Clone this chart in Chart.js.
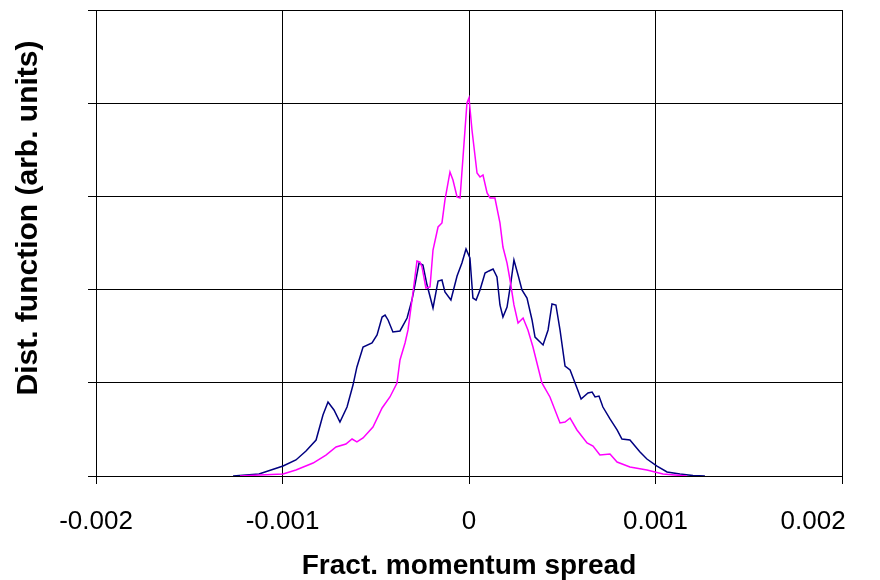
<!DOCTYPE html>
<html lang="en">
<head>
  <meta charset="UTF-8">
  <title>Dist. function</title>
  <style>
    body { margin: 0; background: #fff; }
    #wrap { width: 880px; height: 580px; }
  </style>
</head>
<body>
  <div id="wrap"><canvas id="chart" width="880" height="580"></canvas></div>
  <script src="https://cdn.jsdelivr.net/npm/chart.js"></script>
  <script>
    // navy curve (wider spread)
    const blueX = [-0.001265, -0.001126, -0.000997, -0.000928, -0.000874, -0.000820, -0.000783, -0.000756, -0.000724, -0.000692,
      -0.000654, -0.000622, -0.000601, -0.000568, -0.000520, -0.000493, -0.000466, -0.000450, -0.000434, -0.000408,
      -0.000370, -0.000332, -0.000306, -0.000290, -0.000268, -0.000247, -0.000225, -0.000193, -0.000166, -0.000145,
      -0.000129, -0.000097, -0.000064, -0.000038, -0.000016, 0.000005, 0.000021, 0.000038, 0.000059, 0.000086,
      0.000107, 0.000129, 0.000150, 0.000166, 0.000182, 0.000204, 0.000225, 0.000241, 0.000263, 0.000284,
      0.000311, 0.000338, 0.000354, 0.000397, 0.000424, 0.000445, 0.000466, 0.000488, 0.000515, 0.000542,
      0.000579, 0.000601, 0.000638, 0.000660, 0.000676, 0.000697, 0.000718, 0.000756, 0.000794, 0.000820,
      0.000863, 0.000917, 0.000954, 0.001008, 0.001062, 0.001131, 0.001201, 0.001265];
    const blueY = [0, 0.021, 0.107, 0.172, 0.268, 0.386, 0.655, 0.794, 0.708, 0.579,
      0.740, 0.976, 1.170, 1.384, 1.427, 1.513, 1.706, 1.727, 1.674, 1.545,
      1.556, 1.695, 1.888, 2.049, 2.285, 2.264, 2.049, 1.803, 2.092, 2.103,
      1.974, 1.888, 2.146, 2.285, 2.436, 2.339, 1.910, 1.888, 1.996, 2.178,
      2.200, 2.221, 2.135, 1.835, 1.706, 1.813, 2.082, 2.318, 2.157, 1.996,
      1.910, 1.674, 1.491, 1.406, 1.567, 1.846, 1.835, 1.567, 1.180, 1.137,
      0.944, 0.826, 0.891, 0.901, 0.848, 0.858, 0.740, 0.612, 0.494, 0.397,
      0.386, 0.258, 0.182, 0.107, 0.043, 0.021, 0.005, 0];

    // magenta curve (narrow peak)
    const pinkX = [-0.001228, -0.001121, -0.000997, -0.000928, -0.000836, -0.000767, -0.000713, -0.000660, -0.000627, -0.000601,
      -0.000568, -0.000515, -0.000466, -0.000424, -0.000386, -0.000370, -0.000343, -0.000327, -0.000300, -0.000279,
      -0.000263, -0.000252, -0.000231, -0.000209, -0.000193, -0.000166, -0.000145, -0.000129, -0.000102, -0.000086,
      -0.000064, -0.000048, -0.000032, -0.000011, 0, 0.000016, 0.000043, 0.000059, 0.000075, 0.000097,
      0.000113, 0.000139, 0.000166, 0.000182, 0.000204, 0.000220, 0.000241, 0.000263, 0.000290, 0.000316,
      0.000343, 0.000391, 0.000434, 0.000488, 0.000515, 0.000542, 0.000579, 0.000633, 0.000665, 0.000702,
      0.000756, 0.000794, 0.000863, 0.000954, 0.001040, 0.001169];
    const pinkY = [0, 0.011, 0.021, 0.064, 0.139, 0.225, 0.311, 0.343, 0.397, 0.365,
      0.408, 0.526, 0.730, 0.848, 0.998, 1.245, 1.427, 1.567, 1.974, 2.307,
      2.296, 2.243, 2.017, 2.028, 2.425, 2.672, 2.715, 2.961, 3.262, 3.176,
      2.994, 2.983, 3.423, 4.002, 4.056, 3.712, 3.251, 3.208, 3.230, 3.037,
      2.983, 2.983, 2.715, 2.457, 2.285, 2.103, 1.835, 1.642, 1.695, 1.567,
      1.384, 0.998, 0.848, 0.569, 0.579, 0.622, 0.494, 0.354, 0.322, 0.225,
      0.236, 0.150, 0.097, 0.064, 0.021, 0];

    const xTicks = [-0.002, -0.001, 0, 0.001, 0.002];
    // last label sits left of its tick, as in the original
    const xTickLabels = ['-0.002', '-0.001', '0', '0.001', '0.002        '];

    const font = 'Liberation Sans, Arial, sans-serif';

    function points(xs, ys) {
      return xs.map((x, i) => ({ x: x, y: ys[i] }));
    }

    new Chart(document.getElementById('chart'), {
      type: 'line',
      data: {
        datasets: [
          { data: points(pinkX, pinkY), borderColor: '#ff00ff', borderWidth: 1.5, pointRadius: 0, tension: 0 },
          { data: points(blueX, blueY), borderColor: '#000080', borderWidth: 1.5, pointRadius: 0, tension: 0 }
        ]
      },
      options: {
        responsive: false,
        animation: false,
        layout: { padding: { left: 0, top: 10, right: 38, bottom: 0 } },
        plugins: { legend: { display: false }, tooltip: { enabled: false } },
        scales: {
          x: {
            type: 'linear',
            min: -0.002,
            max: 0.002,
            afterBuildTicks: scale => { scale.ticks = xTicks.map(v => ({ value: v })); },
            afterFit: scale => { scale.height = 104; scale.paddingRight = 0; },
            ticks: {
              callback: (v, i) => xTickLabels[i],
              color: '#000',
              padding: 22,
              maxRotation: 0,
              font: { family: font, size: 26 }
            },
            grid: { color: '#000', lineWidth: 1, tickLength: 8 },
            border: { color: '#000' },
            title: {
              display: true,
              text: 'Fract. momentum spread',
              color: '#000',
              padding: { top: 0, bottom: 0 },
              font: { family: font, size: 28, weight: 'bold', lineHeight: 1 }
            }
          },
          y: {
            min: 0,
            max: 5,
            ticks: { stepSize: 1, display: false },
            afterFit: scale => { scale.width = 96; },
            grid: { color: '#000', lineWidth: 1, tickLength: 8 },
            border: { color: '#000' },
            title: {
              display: true,
              // leading spaces lift the centred text toward the top, as in the original
              text: '      Dist. function (arb. units)',
              color: '#000',
              padding: { top: 14, bottom: 0 },
              font: { family: font, size: 30, weight: 'bold', lineHeight: 1 }
            }
          }
        }
      }
    });
  </script>
</body>
</html>
